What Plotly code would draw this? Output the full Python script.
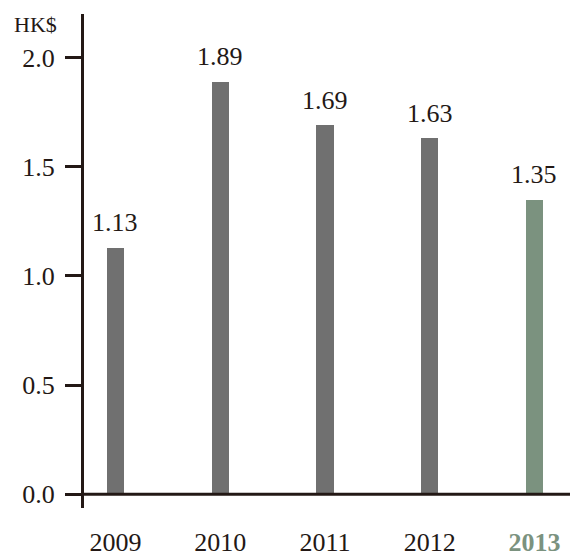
import plotly.graph_objects as go

years = ["2009", "2010", "2011", "2012", "2013"]
values = [1.13, 1.89, 1.69, 1.63, 1.35]
bar_colors = ["#707070", "#707070", "#707070", "#707070", "#7b927f"]
y_ticks = [0.0, 0.5, 1.0, 1.5, 2.0]
y_tick_labels = ["0.0", "0.5", "1.0", "1.5", "2.0"]
unit_label = "HK$"

FONT = "Liberation Serif, Times New Roman, serif"
INK = "#231815"
x_pos = list(range(len(years)))

tick_text = [y if i < len(years) - 1 else f"<b><span style='color:{bar_colors[-1]}'>{y}</span></b>"
             for i, y in enumerate(years)]

fig = go.Figure()
fig.add_trace(go.Bar(x=x_pos, y=values, marker=dict(color=bar_colors, line=dict(width=0)),
                     width=0.163, hoverinfo="skip"))

for xp, v in zip(x_pos, values):
    fig.add_annotation(x=xp, y=v, text=f"{v:.2f}", showarrow=False, yanchor="middle",
                       yshift=25, font=dict(family=FONT, size=26, color=INK))

fig.add_annotation(xref="paper", yref="paper", text=unit_label, showarrow=False,
                   x=(35 - 84) / (570 - 84), y=(557 - 44 - 25) / (557 - 44 - 14),
                   xanchor="center", yanchor="middle",
                   font=dict(family=FONT, size=22, color=INK))

# x baseline
fig.add_shape(type="line", xref="paper", yref="y", x0=0, x1=1, y0=0, y1=0,
              line=dict(color=INK, width=3))

fig.update_layout(
    width=570, height=557,
    margin=dict(l=84, r=0, t=14, b=44),
    plot_bgcolor="white", paper_bgcolor="white",
    showlegend=False,
    bargap=0,
    xaxis=dict(range=[-0.3, 4.339], tickvals=x_pos, ticktext=tick_text, showline=False,
               showgrid=False, zeroline=False, ticks="", tickfont=dict(family=FONT, size=26, color=INK),
               ticklabelstandoff=16, fixedrange=True),
    yaxis=dict(range=[-0.0635, 2.2], tickvals=y_ticks, ticktext=y_tick_labels, showline=True,
               linecolor=INK, linewidth=3, ticks="outside", ticklen=16, tickwidth=3, tickcolor=INK,
               showgrid=False, zeroline=False, tickfont=dict(family=FONT, size=26, color=INK),
               ticklabelstandoff=5, fixedrange=True),
)

fig.write_html("out.html")
